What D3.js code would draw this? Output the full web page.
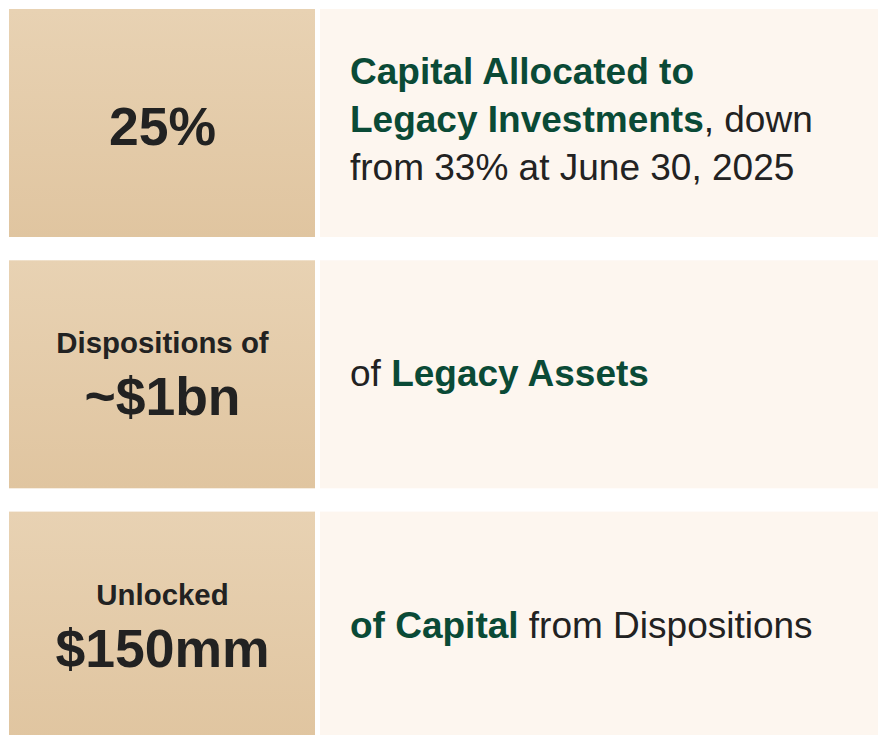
<!DOCTYPE html>
<html>
<head>
<meta charset="utf-8">
<script src="https://cdn.jsdelivr.net/npm/d3@7"></script>
<style>
  html, body { margin: 0; padding: 0; background: #ffffff; }
  svg { display: block; }
  text { font-family: "Liberation Sans", Arial, sans-serif; }
</style>
</head>
<body>
<svg id="chart" width="879" height="735"></svg>
<script>
// ---- data ----
const metrics = ["allocation", "dispositions", "unlocked"];
const smallLabels = ["", "Dispositions of", "Unlocked"];
const bigValues = ["25%", "~$1bn", "$150mm"];
// descriptions: lines of [text, emphasised?]
const descriptions = [
  [
    [["Capital Allocated to", true]],
    [["Legacy Investments", true], [", down", false]],
    [["from 33% at June 30, 2025", false]]
  ],
  [
    [["of ", false], ["Legacy Assets", true]]
  ],
  [
    [["of Capital", true], [" from Dispositions", false]]
  ]
];

// ---- drawing ----
const svg = d3.select("#chart");

const rowH = 228;
const rowTop = d3.scalePoint()
  .domain(metrics)
  .range([9, 9 + 251.3 * 2]);

const defs = svg.append("defs");
const grad = defs.append("linearGradient")
  .attr("id", "tan").attr("x1", 0).attr("y1", 0).attr("x2", 0).attr("y2", 1);
grad.append("stop").attr("offset", "0%").attr("stop-color", "#e8d2b3");
grad.append("stop").attr("offset", "100%").attr("stop-color", "#e0c5a0");

const leftX = 9, leftW = 306, rightX = 320, rightW = 558;
const green = "#0a4a36", dark = "#222222";

const rows = svg.selectAll("g.row")
  .data(metrics)
  .join("g")
  .attr("class", "row")
  .attr("transform", d => `translate(0,${rowTop(d)})`);

rows.append("rect")
  .attr("x", leftX).attr("y", 0).attr("width", leftW).attr("height", rowH)
  .attr("fill", "url(#tan)");

rows.append("rect")
  .attr("x", rightX).attr("y", 0).attr("width", rightW).attr("height", rowH)
  .attr("fill", "#fdf6ef");

const cx = leftX + leftW / 2 + 0.5;
const bigSize = 53.5, smallSize = 29.4, descSize = 37;

rows.each(function(d, i) {
  const g = d3.select(this);
  const small = smallLabels[i];
  if (small) {
    g.append("text")
      .attr("x", cx).attr("y", 93)
      .attr("text-anchor", "middle")
      .attr("font-size", smallSize).attr("font-weight", "bold")
      .attr("fill", dark)
      .text(small);
    g.append("text")
      .attr("x", cx).attr("y", 155)
      .attr("text-anchor", "middle")
      .attr("font-size", bigSize).attr("font-weight", "bold")
      .attr("fill", dark)
      .text(bigValues[i]);
  } else {
    g.append("text")
      .attr("x", cx).attr("y", 136)
      .attr("text-anchor", "middle")
      .attr("font-size", bigSize).attr("font-weight", "bold")
      .attr("fill", dark)
      .text(bigValues[i]);
  }

  const lines = descriptions[i];
  const n = lines.length;
  lines.forEach((segs, li) => {
    const t = g.append("text")
      .attr("x", 350)
      .attr("y", 126 - (n - 1) * 25.5 + li * 48)
      .attr("font-size", descSize);
    segs.forEach(([txt, em]) => {
      t.append("tspan")
        .attr("font-weight", em ? "bold" : "normal")
        .attr("fill", em ? green : dark)
        .style("white-space", "pre")
        .text(txt);
    });
  });
});
</script>
</body>
</html>
